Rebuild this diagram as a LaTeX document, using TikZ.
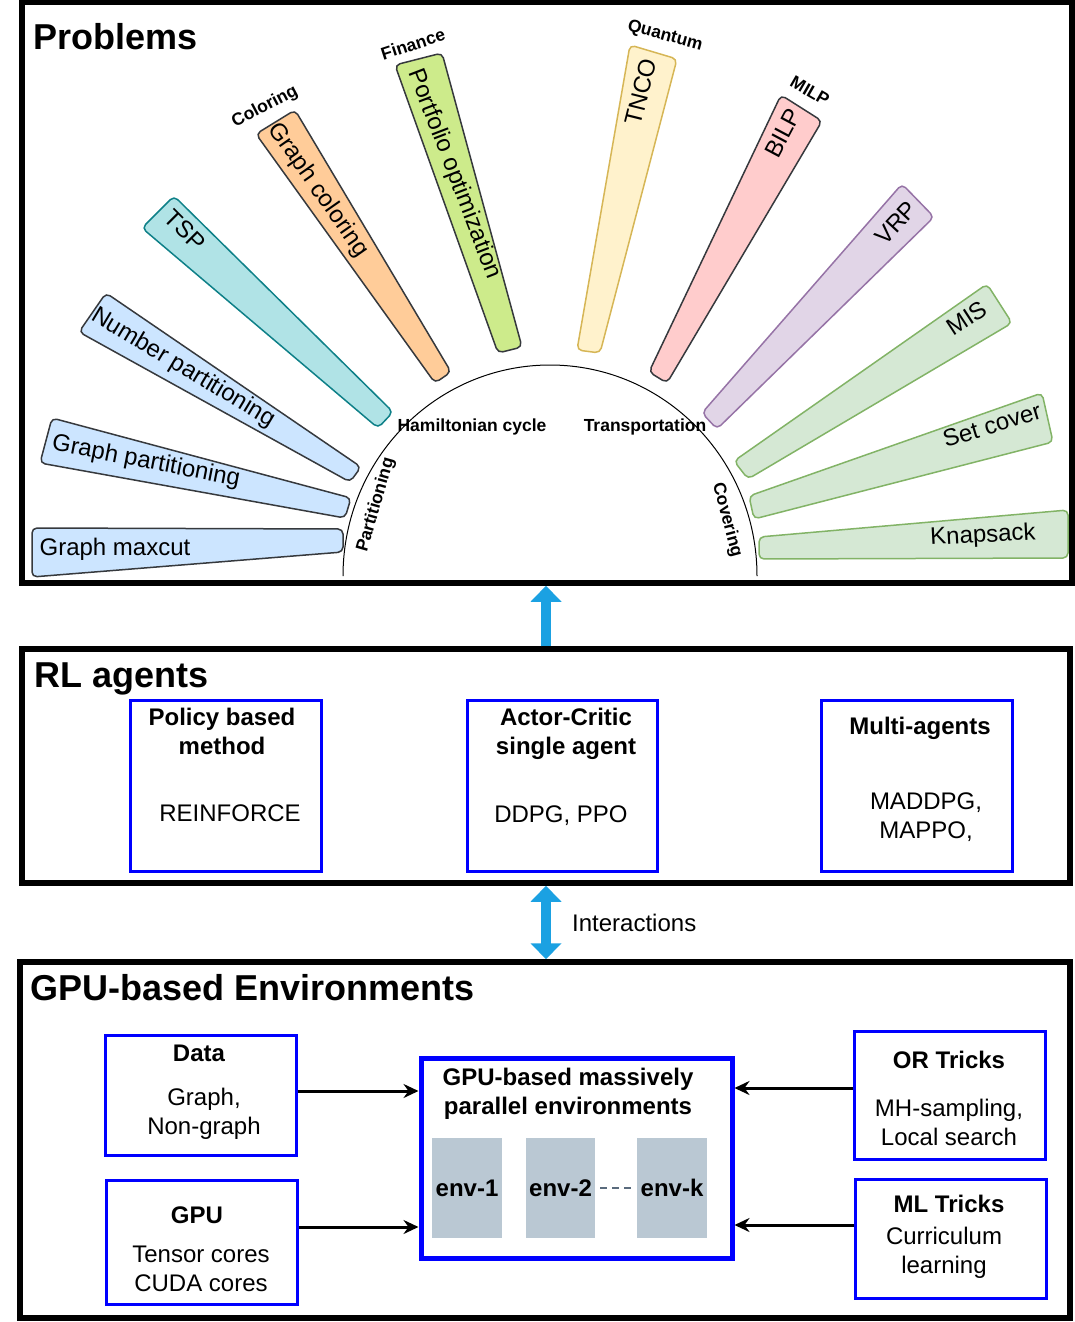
\documentclass[tikz,border=0pt]{standalone}
\usepackage{fontspec}
\setmainfont{Liberation Sans}
\usetikzlibrary{arrows.meta}
\definecolor{agentblue}{HTML}{0000FF}
\definecolor{flowblue}{HTML}{1BA1E2}
\definecolor{envgray}{HTML}{BAC8D3}
\definecolor{envline}{HTML}{5A6B7D}
\definecolor{darkline}{HTML}{36393D}
\definecolor{partfill}{HTML}{CCE5FF}
\definecolor{tspfill}{HTML}{B0E3E6}
\definecolor{tspline}{HTML}{0E8088}
\definecolor{colorfill}{HTML}{FFCC99}
\definecolor{finfill}{HTML}{CDEB8B}
\definecolor{quantfill}{HTML}{FFF2CC}
\definecolor{quantline}{HTML}{D6B656}
\definecolor{milpfill}{HTML}{FFCCCC}
\definecolor{vrpfill}{HTML}{E1D5E7}
\definecolor{vrpline}{HTML}{9673A6}
\definecolor{coverfill}{HTML}{D5E8D4}
\definecolor{coverline}{HTML}{82B366}
\newcommand{\titlefont}{\fontsize{36}{42}\selectfont\bfseries}
\newcommand{\bodyfont}{\fontsize{24}{29}\selectfont}
\newcommand{\tagfont}{\fontsize{17.5}{21}\selectfont\bfseries}
\begin{document}
\begin{tikzpicture}[x=1pt,y=-1pt,
    frame_box/.style={draw=black,line width=5.5pt},
    agent_box/.style={draw=agentblue,line width=3pt},
    main_box/.style={draw=agentblue,line width=5pt},
    env_box/.style={fill=envgray,minimum width=70pt,minimum height=100pt,font=\bodyfont\bfseries},
    bar_shape/.style={rounded corners=5pt,line width=1.5pt},
    bar_label/.style={font=\bodyfont,inner sep=0pt},
    tag_label/.style={font=\tagfont,inner sep=0pt},
    head_text/.style={font=\bodyfont\bfseries,align=center,inner sep=0pt},
    body_text/.style={font=\bodyfont,align=center,inner sep=0pt},
    title_text/.style={font=\titlefont,anchor=base west,inner sep=0pt},
    flow_arrow/.style={draw=flowblue,line width=10pt},
    feed_arrow/.style={black,line width=3pt,-{Stealth[length=15pt,width=14pt,inset=5pt]}},
    env_link/.style={envline,line width=1.5pt,dash pattern=on 7pt off 5pt,shorten <=5pt,shorten >=5pt}]
\useasboundingbox (0,0) rectangle (1075,1322);
% frames
\node[frame_box,minimum width=1050pt,minimum height=580.5pt] (problems) at (547,292.75) {};
\node[frame_box,minimum width=1048pt,minimum height=234pt] (agents) at (546,766) {};
\node[frame_box,minimum width=1050pt,minimum height=356pt] (gpuenv) at (545,1140) {};
\node[title_text] (probtitle) at (33,49) {Problems};
\node[title_text] (agenttitle) at (34,687) {RL agents};
\node[title_text] (envtitle) at (30,1000) {GPU-based Environments};
% problems
  \draw[black,line width=1pt] (343,576) arc[start angle=180,end angle=0,x radius=207pt,y radius=211pt];
  \draw[bar_shape,fill=partfill,draw=darkline] (32,528) -- (343,529) -- (343,552) -- (32,577) -- cycle;
  \draw[bar_shape,fill=partfill,draw=darkline] (52,418) -- (351,498) -- (345,518) -- (40,463) -- cycle;
  \draw[bar_shape,fill=partfill,draw=darkline] (106,293) -- (361,467) -- (350,482) -- (79,332) -- cycle;
  \draw[bar_shape,fill=tspfill,draw=tspline] (174,196) -- (393,412) -- (378,428) -- (142,228) -- cycle;
  \draw[bar_shape,fill=colorfill,draw=darkline] (295,110) -- (451,372) -- (435,383) -- (256,134) -- cycle;
  \draw[bar_shape,fill=finfill,draw=darkline] (395,65) -- (442,53) -- (522,347) -- (498,353) -- cycle;
  \draw[bar_shape,fill=quantfill,draw=quantline] (630,45) -- (677,59) -- (600,353) -- (577,350) -- cycle;
  \draw[bar_shape,fill=milpfill,draw=darkline] (781,95) -- (822,121) -- (667,383) -- (649,372) -- cycle;
  \draw[bar_shape,fill=vrpfill,draw=vrpline] (902,184) -- (934,217) -- (717,429) -- (702,413) -- cycle;
  \draw[bar_shape,fill=coverfill,draw=coverline] (987,284) -- (1012,323) -- (748,479) -- (734,461) -- cycle;
  \draw[bar_shape,fill=coverfill,draw=coverline] (1042,393) -- (1053,442) -- (754,519) -- (749,496) -- cycle;
  \draw[bar_shape,fill=coverfill,draw=coverline] (1068,510) -- (1068,558) -- (759,559) -- (759,537) -- cycle;
\node[bar_label] (maxcut) at (115,549) {Graph maxcut};
\node[bar_label,rotate=-11] (graphpart) at (146,462) {Graph partitioning};
\node[bar_label,rotate=-31] (numpart) at (183,368) {Number partitioning};
\node[bar_label,rotate=-45] (tsp) at (185,230) {TSP};
\node[bar_label,rotate=-55] (graphcolor) at (318,190) {Graph coloring};
\node[bar_label,rotate=-69] (portfolio) at (454,174) {Portfolio optimization};
\node[bar_label,rotate=76] (tnco) at (641,92) {TNCO};
\node[bar_label,rotate=62] (bilp) at (783,133) {BILP};
\node[bar_label,rotate=47] (vrp) at (896,223) {VRP};
\node[bar_label,rotate=33] (mis) at (967,318) {MIS};
\node[bar_label,rotate=17] (setcover) at (992,425) {Set cover};
\node[bar_label,rotate=3] (knapsack) at (983,536) {Knapsack};
\node[tag_label,rotate=28] (coloring) at (265,107) {Coloring};
\node[tag_label,rotate=18] (finance) at (413,44) {Finance};
\node[tag_label,rotate=-15] (quantum) at (665,36) {Quantum};
\node[tag_label,rotate=-30] (milp) at (810,91) {MILP};
\node[tag_label] (hamilton) at (472,427) {Hamiltonian cycle};
\node[tag_label] (transport) at (645,427) {Transportation};
\node[tag_label,rotate=74] (partition) at (376,505) {Partitioning};
\node[tag_label,rotate=-75] (covering) at (727,520) {Covering};
% agents
\node[agent_box,minimum width=191pt,minimum height=171pt] (policy) at (225.5,785.5) {};
\node[agent_box,minimum width=190pt,minimum height=171pt] (actor) at (562,785.5) {};
\node[agent_box,minimum width=191pt,minimum height=171pt] (multi) at (916.5,785.5) {};
\node[head_text] (policyhead) at (222,731.5) {Policy based\\method};
\node[body_text] (policybody) at (230,813) {REINFORCE};
\node[head_text] (actorhead) at (566,733.5) {Actor-Critic\\single agent};
\node[body_text] (actorbody) at (561,816) {DDPG, PPO};
\node[head_text] (multihead) at (920,728) {Multi-agents};
\node[body_text] (multibody) at (926,817.5) {MADDPG,\\MAPPO,};
  \draw[flow_arrow,-{Triangle[width=30pt,length=16pt]}] (agents.north) -- (agents.north |- problems.south);
  \draw[flow_arrow,{Triangle[width=30pt,length=16pt]}-{Triangle[width=30pt,length=16pt]}] (agents.south) -- (agents.south |- gpuenv.north);
\node[body_text,anchor=west] (interact) at (572,923) {Interactions};
% environments
\node[agent_box,minimum width=191pt,minimum height=120pt] (data) at (200.5,1095) {};
\node[agent_box,minimum width=191pt,minimum height=124pt] (gpu) at (201.5,1242) {};
\node[main_box,minimum width=311pt,minimum height=199.5pt] (massive) at (576.5,1158.25) {};
\node[agent_box,minimum width=191pt,minimum height=128pt] (ortricks) at (949.5,1095) {};
\node[agent_box,minimum width=191pt,minimum height=119pt] (mltricks) at (950.5,1238.5) {};
\node[env_box] (env1) at (467,1188) {env-1};
\node[env_box,minimum width=69pt] (env2) at (560.5,1188) {env-2};
\node[env_box] (envk) at (672,1188) {env-k};
\node[head_text] (datahead) at (199,1053) {Data};
\node[body_text] (databody) at (204,1113.5) {Graph,\\Non-graph};
\node[head_text] (gpuhead) at (197,1215) {GPU};
\node[body_text] (gpubody) at (201,1269) {Tensor cores\\CUDA cores};
\node[head_text] (massivehead) at (568,1094) {GPU-based massively\\parallel environments};
\node[head_text] (orhead) at (949,1060) {OR Tricks};
\node[body_text] (orbody) at (949,1122.5) {MH-sampling,\\Local search};
\node[head_text] (mlhead) at (949,1204) {ML Tricks};
\node[body_text] (mlbody) at (944,1253) {Curriculum\\learning};
  \draw[env_link] (env2) -- (envk);
  \draw[feed_arrow] ([yshift=4pt]data.east) -- ([yshift=4pt]data.east -| massive.west);
  \draw[feed_arrow] ([yshift=15pt]gpu.east) -- ([yshift=15pt]gpu.east -| massive.west);
  \draw[feed_arrow] ([yshift=7pt]ortricks.west) -- ([yshift=7pt]ortricks.west -| massive.east);
  \draw[feed_arrow] ([yshift=13.5pt]mltricks.west) -- ([yshift=13.5pt]mltricks.west -| massive.east);
\end{tikzpicture}
\end{document}
